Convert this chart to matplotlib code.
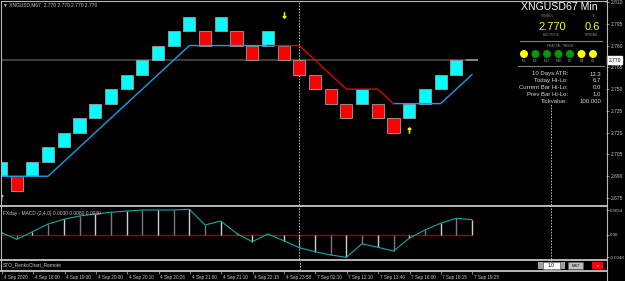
import matplotlib
matplotlib.use('Agg')
import matplotlib.pyplot as plt
import matplotlib.transforms as mtransforms
from matplotlib.patches import Rectangle, Circle
import numpy as np

W, H = 625, 281
plt.rcParams['font.family'] = ['Liberation Sans', 'DejaVu Sans']

# ---------------- data ----------------
header_text = '\u25bc XNGUSD,M67  2.770 2.770 2.770 2.770'
box_size = 0.010
box_low = [2.690, 2.680, 2.690, 2.700, 2.710, 2.720, 2.730, 2.740, 2.750, 2.760,
           2.770, 2.780, 2.790, 2.780, 2.790, 2.780, 2.770, 2.780, 2.770, 2.760,
           2.750, 2.740, 2.730, 2.740, 2.730, 2.720, 2.730, 2.740, 2.750, 2.760]
box_dir = [1, -1, 1, 1, 1, 1, 1, 1, 1, 1,
           1, 1, 1, -1, 1, -1, -1, 1, -1, -1,
           -1, -1, -1, 1, -1, -1, 1, 1, 1, 1]
forming_col = 30
forming_price = 2.770
nan = float('nan')
stop_up = [2.690, 2.690, 2.690, 2.690, 2.700, 2.710, 2.720, 2.730, 2.740, 2.750,
           2.760, 2.770, 2.780, 2.780, 2.780, 2.780, 2.780, 2.780, nan, nan,
           nan, nan, nan, nan, nan, 2.740, 2.740, 2.740, 2.740, 2.750, 2.760]
stop_dn = [nan, nan, nan, nan, nan, nan, nan, nan, nan, nan,
           nan, nan, nan, nan, nan, nan, nan, 2.780, 2.780, 2.780,
           2.770, 2.760, 2.750, 2.750, 2.750, 2.740, nan, nan, nan, nan, nan]
frac_dn_col = [18]
frac_dn_price = [2.801]
frac_up_col = [26, 0]
frac_up_price = [2.722, 2.676]
bid_price = 2.770
price_ticks = [2.810, 2.795, 2.780, 2.765, 2.750, 2.735, 2.720, 2.705, 2.690, 2.675]
sep_cols = [19, 35]

macd_title = 'FXday - MACD (2,4,0) 0.0030 0.0080 0.0030'
macd_vals = [0.00058, -0.00093, 0.00071, 0.00238, 0.00339, 0.0041, 0.00454, 0.0049,
             0.00518, 0.0054, 0.0054, 0.0054, 0.00555, 0.00216, 0.00302, 0.00037,
             -0.00145, 0.00022, -0.00123, -0.00274, -0.0036, -0.00432, -0.00482,
             -0.00188, -0.00266, -0.00346, -0.00071, 0.00108, 0.00253, 0.00361, 0.0033]
macd_ticks = [0.0054, 0.0, -0.0048]
macd_tick_labels = ['0.0054', '0.00', '-0.0048']

sub_title = 'STO_RenkoChart_Remote'
time_cols = list(range(0, 31, 2))
time_labels = ['4 Sep 2020', '4 Sep 18:00', '4 Sep 19:00', '4 Sep 20:00', '4 Sep 20:10',
               '4 Sep 20:26', '4 Sep 21:00', '4 Sep 21:10', '4 Sep 22:15', '4 Sep 23:58',
               '7 Sep 02:10', '7 Sep 12:10', '7 Sep 13:46', '7 Sep 16:00', '7 Sep 18:15',
               '7 Sep 19:25']

panel_title = 'XNGUSD67 Min'
bid_text = '2.770'
spread_text = '0.6'
trend_tfs = ['M1', 'M5', 'M15', 'M30', 'H1', 'H4', 'D1']
trend_colors = ['#ffff00', '#009a00', '#009a00', '#009a00', '#009a00', '#ffff00', '#ffff00']
stats_labels = ['10 Days ATR:', 'Today Hi-Lo:', 'Current Bar Hi-Lo:', 'Prev Bar Hi-Lo:', 'Tickvalue:']
stats_values = ['13.3', '6.7', '0.0', '1.0', '100.000']

# ---------------- layout ----------------
COL_PX, COL0_PX = 15.7, 1.0
AX_L, AX_R = 2, 606
XLIM = ((AX_L - COL0_PX) / COL_PX, (AX_R - COL0_PX) / COL_PX)
GRAY = '#b8b8b8'
TXT = '#c8c8c8'

fig = plt.figure(figsize=(W / 100, H / 100), dpi=100, facecolor='black')


def px_axes(x0, y0, x1, y1):
    a = fig.add_axes([x0 / W, 1 - y1 / H, (x1 - x0) / W, (y1 - y0) / H])
    a.set_facecolor('black')
    for s in a.spines.values():
        s.set_visible(False)
    return a


# main price panel
ax = px_axes(AX_L, 2, AX_R, 205)
pp = 0.135 / 196.0
ax.set_xlim(*XLIM)
ax.set_ylim(2.810 - 203 * pp, 2.810)
cols = np.arange(len(box_low))
colors = ['#00ffff' if d > 0 else '#ff0000' for d in box_dir]
ax.bar(cols, [box_size] * len(cols), bottom=box_low, width=0.765, color=colors,
       edgecolor='#a0a0a0', linewidth=0.6, zorder=3)
ax.hlines(bid_price, XLIM[0], forming_col + 0.4, color='#444444', lw=1.3, zorder=1)
ax.hlines(forming_price, forming_col - 0.38, forming_col + 0.38, color='#8a8a8a', lw=1.3, zorder=2)
scol = np.arange(len(stop_up))
ax.plot(scol, stop_up, color='#1e9be6', lw=1.0, zorder=4)
ax.plot(scol, stop_dn, color='#e00000', lw=1.0, zorder=4)
ax.plot(frac_dn_col, frac_dn_price, ls='none', marker=r'$\downarrow$', color='#f0f000', ms=4,
        mew=0.7, zorder=5)
ax.plot(frac_up_col, frac_up_price, ls='none', marker=r'$\uparrow$', color='#f0f000', ms=4,
        mew=0.7, zorder=5)
for c in sep_cols:
    ax.axvline(c, color='#c8c8c8', lw=0.7, ls=(0, (1.5, 1.5)), zorder=2)
ax.set_xticks([])
ax.yaxis.tick_right()
ax.set_yticks(price_ticks)
ax.set_yticklabels([f'{v:.3f}' for v in price_ticks])
ax.tick_params(axis='y', colors=GRAY, labelcolor=TXT, labelsize=3.5, length=2, width=0.5, pad=1.5)
trans = mtransforms.blended_transform_factory(ax.transAxes, ax.transData)
ax.text(1.004, bid_price, f'{bid_price:.3f}', transform=trans, fontsize=3.5, color='black',
        va='center', ha='left', zorder=10,
        bbox=dict(boxstyle='square,pad=0.25', facecolor='white', edgecolor='white'))

# MACD panel
axm = px_axes(AX_L, 207.5, AX_R, 259)
k = 0.0054 / 25.0
axm.set_xlim(*XLIM)
axm.set_ylim(-(259 - 235) * k, (235 - 207.5) * k)
mcols = np.arange(len(macd_vals))
axm.hlines(0, 0, mcols[-1], color='#a00000', lw=1.0, zorder=1)
bar_cols = ['#d0d0d0' if i % 2 == 0 else '#7a7a7a' for i in mcols]
axm.vlines(mcols, 0, macd_vals, colors=bar_cols, lw=1.0, zorder=2)
axm.plot(mcols, macd_vals, color='#18a8a8', lw=0.8, zorder=3)
for c in sep_cols:
    axm.axvline(c, color='#c8c8c8', lw=0.7, ls=(0, (1.5, 1.5)), zorder=2)
axm.set_xticks([])
axm.yaxis.tick_right()
axm.set_yticks(macd_ticks)
axm.set_yticklabels(macd_tick_labels)
axm.tick_params(axis='y', colors=GRAY, labelcolor=TXT, labelsize=3.2, length=2, width=0.5, pad=1.0)
axm.text(0.002, 0.93, macd_title, transform=axm.transAxes, fontsize=3.5, color=TXT, va='top', ha='left')

# sub panel
axs = px_axes(AX_L, 261, AX_R, 269.5)
axs.set_xlim(*XLIM)
axs.set_ylim(0, 1)
axs.set_yticks([])
for c in sep_cols:
    axs.axvline(c, color='#c8c8c8', lw=0.7, ls=(0, (1.5, 1.5)), zorder=2)
axs.set_xticks(time_cols)
axs.set_xticklabels(time_labels, ha='left')
axs.tick_params(axis='x', colors=GRAY, labelcolor=TXT, labelsize=3.3, length=3, width=0.5, pad=0.8,
                direction='out')
for lab in axs.get_xticklabels():
    lab.set_transform(lab.get_transform() + mtransforms.ScaledTranslation(1.5 / 100, 0, fig.dpi_scale_trans))
axs.text(0.002, 0.5, sub_title, transform=axs.transAxes, fontsize=3.5, color=TXT, va='center', ha='left')

# ---------------- overlay (pixel coordinates) ----------------
ov = fig.add_axes([0, 0, 1, 1], zorder=20)
ov.set_xlim(0, W)
ov.set_ylim(H, 0)
ov.axis('off')
ov.patch.set_alpha(0)

# borders / separators
ov.plot([1, 606.5], [1, 1], color=GRAY, lw=0.8)
ov.plot([1, 1], [1, 271], color=GRAY, lw=0.8)
ov.plot([606.5, 606.5], [0, 281], color=GRAY, lw=0.8)
for yy in (206.2, 260.2, 270.6):
    ov.plot([0, 606.5], [yy, yy], color=GRAY, lw=1.4)

ov.text(3, 5, header_text, fontsize=3.5, color=TXT, va='center', ha='left')

# info panel
ov.add_patch(Rectangle((514, 2), 91, 102, facecolor='black', edgecolor='none'))
ov.text(598, 7, panel_title, fontsize=7.6, color='white', va='center', ha='right')
ov.text(548, 16, 'SYMBOL', fontsize=2.3, color='#909090', va='center', ha='center')
ov.text(594, 16, 'TF', fontsize=2.3, color='#909090', va='center', ha='center')
ov.text(566, 27, bid_text, fontsize=8, color='#ffff00', va='center', ha='right')
ov.text(600, 27, spread_text, fontsize=8, color='#ffff00', va='center', ha='right')
ov.text(551, 35.5, 'BID PRICE', fontsize=2.3, color='#909090', va='center', ha='center')
ov.text(591, 35.5, 'SPREAD', fontsize=2.3, color='#909090', va='center', ha='center')
ov.plot([520, 602], [41, 41], color='#808080', lw=0.8)
ov.text(560, 46, 'FRACTAL TREND', fontsize=2.3, color='#909090', va='center', ha='center')
for i, (tf, c) in enumerate(zip(trend_tfs, trend_colors)):
    cx = 524 + i * 11.5
    ov.add_patch(Circle((cx, 54), 4.0, facecolor=c, edgecolor='none'))
    ov.text(cx, 61.5, tf, fontsize=2.3, color='#a0a0a0', va='center', ha='center')
ov.plot([518, 604], [65.5, 65.5], color='#808080', lw=0.8)
for i, (lab, val) in enumerate(zip(stats_labels, stats_values)):
    yy = 74 + i * 6.8
    ov.text(568, yy, lab, fontsize=4.3, color='#d8d8d8', va='center', ha='right')
    ov.text(601, yy, val, fontsize=4.3, color='#d8d8d8', va='center', ha='right')

# bottom-right controls
ov.add_patch(Rectangle((538, 262), 5, 7, facecolor='#a0a0a0', edgecolor='none'))
ov.add_patch(Rectangle((543, 262), 17, 7, facecolor='white', edgecolor='#808080', lw=0.4))
ov.text(551.5, 265.6, '1.0', fontsize=3.5, color='black', va='center', ha='center')
ov.add_patch(Rectangle((561, 262), 4, 7, facecolor='#a0a0a0', edgecolor='none'))
ov.add_patch(Rectangle((568, 262), 15, 7, facecolor='#c0c0c0', edgecolor='#606060', lw=0.4))
ov.text(575.5, 265.6, 'M67', fontsize=3.2, color='black', va='center', ha='center')
ov.add_patch(Rectangle((592, 262), 11, 7, facecolor='#ff0000', edgecolor='none'))
ov.text(597.5, 265.6, 'c', fontsize=3.2, color='white', va='center', ha='center')

fig.savefig('out.png', dpi=100, facecolor='black')
